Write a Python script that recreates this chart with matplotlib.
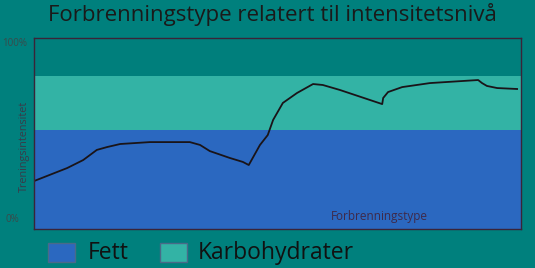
import matplotlib.pyplot as plt
from matplotlib.patches import Rectangle

# intensitet (0-100 langs x) og forbrenning (0-100 %)
intensitet = [0, 6.8, 10.1, 12.9, 15.0, 17.7, 23.8, 32.0, 34.1, 36.1, 40.2, 42.9, 44.1,
              46.4, 48.0, 49.1, 51.1, 54.0, 57.3, 59.3, 62.8, 71.5, 71.7, 72.7, 75.6,
              81.3, 88.1, 91.2, 92.0, 93.0, 95.1, 99.2]
forbrenning = [25.1, 31.9, 36.1, 41.4, 42.9, 44.5, 45.5, 45.5, 44.0, 40.8, 37.2, 35.1, 33.5,
               44.0, 49.2, 57.1, 66.0, 71.2, 75.9, 75.4, 72.8, 65.4, 68.6, 71.7, 74.3,
               76.4, 77.5, 78.0, 76.4, 74.9, 73.8, 73.3]

# grenser for sonene
fett_grense = 52
karbo_grense = 80

bg = "#00807d"
blaa = "#2b68c0"
turkis = "#33b3a5"
topp = "#007f7c"

fig = plt.figure(figsize=(5.35, 2.68), dpi=100)
fig.patch.set_facecolor(bg)
ax = fig.add_axes([34 / 535, 1 - 229 / 268, 487 / 535, 191 / 268])

ax.axhspan(0, fett_grense, color=blaa, lw=0)
ax.axhspan(fett_grense, karbo_grense, color=turkis, lw=0)
ax.axhspan(karbo_grense, 100, color=topp, lw=0)
ax.plot(intensitet, forbrenning, color="#1a1418", lw=1.3, solid_joinstyle="round")

ax.set_xlim(0, 100)
ax.set_ylim(0, 100)
ax.set_xticks([])
ax.set_yticks([])
for s in ax.spines.values():
    s.set_color("#3a2438")
    s.set_linewidth(1)

ax.text(71, 6.5, "Forbrenningstype", ha="center", va="center",
        fontsize=8.5, color="#3e2a4a", family="Open Sans")

fig.text(272 / 535, 1 - 15 / 268, "Forbrenningstype relatert til intensitetsnivå",
         ha="center", va="center", fontsize=16, color="#1a1a1a", family="Open Sans")
fig.text(15 / 535, 1 - 43 / 268, "100%", ha="center", va="center",
         fontsize=7, color="#3a4a4a", family="Open Sans")
fig.text(12 / 535, 1 - 220 / 268, "0%", ha="center", va="center",
         fontsize=7, color="#3a4a4a", family="Open Sans")
fig.text(24 / 535, 1 - 146 / 268, "Treningsintensitet", ha="center", va="center",
         rotation=90, fontsize=7.8, color="#3a3a48", family="Open Sans")

# forklaring
for x0, farge, navn, tx in [(48, blaa, "Fett", 88), (160, turkis, "Karbohydrater", 198)]:
    fig.add_artist(Rectangle((x0 / 535, 1 - 262 / 268), 27 / 535, 19 / 268,
                             transform=fig.transFigure, facecolor=farge,
                             edgecolor="#4a6a88", lw=1))
    fig.text(tx / 535, 1 - 253 / 268, navn, ha="left", va="center",
             fontsize=16.5, color="#111111", family="Open Sans")

fig.savefig("out.png", dpi=100, facecolor=bg)
